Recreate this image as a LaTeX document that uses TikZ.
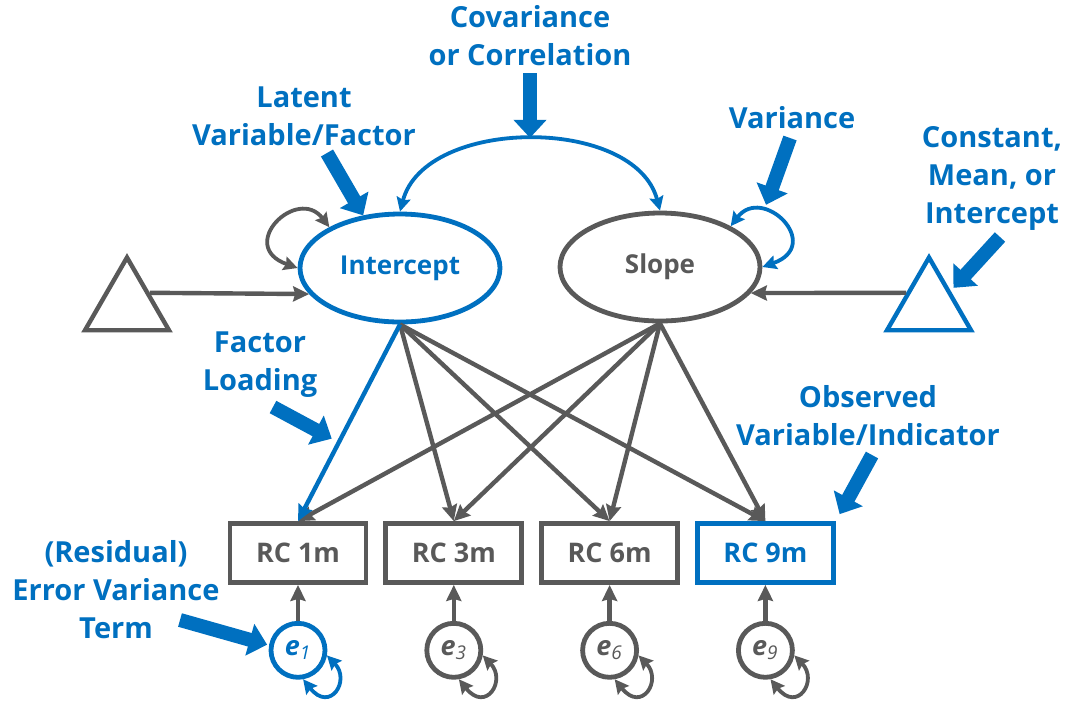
\documentclass[tikz,border=0pt]{standalone}
\usepackage{fontspec}
\setmainfont{Open Sans}
\usetikzlibrary{shapes.geometric, arrows.meta, positioning}
\definecolor{semblue}{RGB}{0, 112, 192}
\definecolor{semgray}{RGB}{89, 89, 89}

\begin{document}
\begin{tikzpicture}[
  x = 0.5pt,
  y = -0.5pt,
  node distance = 7.5pt,
  latent/.style = {
    ellipse,
    draw = semgray,
    line width = 2.4pt,
    minimum width = 100pt,
    minimum height = 54pt,
    text = semgray,
    font = \fontsize{13}{15}\selectfont\bfseries
  },
  observed/.style = {
    rectangle,
    draw = semgray,
    line width = 2.4pt,
    minimum width = 68pt,
    minimum height = 29.5pt,
    text = semgray,
    font = \fontsize{13.5}{15}\selectfont\bfseries
  },
  errterm/.style = {
    circle,
    draw = semgray,
    line width = 2.4pt,
    minimum size = 27pt,
    inner sep = 0pt,
    text = semgray,
    font = \fontsize{13.5}{15}\selectfont\bfseries
  },
  constant/.style = {
    regular polygon,
    regular polygon sides = 3,
    draw = semgray,
    line width = 2.2pt,
    minimum size = 48.5pt,
    inner sep = 0pt
  },
  loading/.style = {
    -{Stealth[length=8pt, width=7.5pt, inset=1pt]},
    draw = semgray,
    line width = 2.2pt
  },
  twoway/.style = {
    {Stealth[length=7pt, width=7pt, inset=1pt]}-{Stealth[length=7pt, width=7pt, inset=1pt]},
    draw = semgray,
    line width = 1.9pt
  },
  callout/.style = {
    -{Triangle[length=9pt, width=16pt]},
    draw = semblue,
    line width = 7pt
  },
  note/.style = {
    text = semblue,
    align = center,
    font = \fontsize{14.5}{19}\selectfont\bfseries
  }
]
\path[fill=white] (0,0) rectangle (1080,720);
\useasboundingbox (0,0) rectangle (1080,720);

% Factors and constants
\node[latent, draw=semblue, text=semblue] (icpt) at (400,268) {Intercept};
\node[latent] (slope) at (660,267) {Slope};
\node[constant] (lconst) at (127,306) {};
\node[constant, draw=semblue] (rconst) at (929,306) {};

% Indicators and residuals
\node[observed] (rc1) at (298,553) {RC 1m};
\node[observed, right=of rc1] (rc3) {RC 3m};
\node[observed, right=of rc3] (rc6) {RC 6m};
\node[observed, right=of rc6, draw=semblue, text=semblue] (rc9) {RC 9m};
\node[errterm, below=18pt of rc1, draw=semblue, text=semblue] (e1) {\textit{e}\textsubscript{\mdseries\itshape 1}};
\node[errterm, below=18pt of rc3] (e3) {\textit{e}\textsubscript{\mdseries\itshape 3}};
\node[errterm, below=18pt of rc6] (e6) {\textit{e}\textsubscript{\mdseries\itshape 6}};
\node[errterm, below=18pt of rc9] (e9) {\textit{e}\textsubscript{\mdseries\itshape 9}};

% Labels
\node[note] (covlbl) at (530,36) {Covariance\\or Correlation};
\node[note] (latlbl) at (304,116) {Latent\\Variable/Factor};
\node[note] (varlbl) at (792,118) {Variance};
\node[note] (conlbl) at (992,178) {Constant,\\Mean, or\\Intercept};
\node[note] (faclbl) at (260,365) {Factor\\Loading};
\node[note] (obslbl) at (868,416) {Observed\\Variable/Indicator};
\node[note] (errlbl) at (116,590) {(Residual)\\Error Variance\\Term};

% Means
\draw[loading] (lconst.30) -- (icpt.196);
\draw[loading] (rconst.150) -- (slope.-16);

% Loadings
\draw[loading] (icpt.south) -- (rc3.north);
\draw[loading] (icpt.south) -- (rc6.north);
\draw[loading] (icpt.south) -- (rc9.north);
\draw[loading] (slope.south) -- (rc1.north);
\draw[loading] (slope.south) -- (rc3.north);
\draw[loading] (slope.south) -- (rc6.north);
\draw[loading] (slope.south) -- (rc9.north);
\draw[loading, draw=semblue] (icpt.south) -- (rc1.north) coordinate[pos=0.6] (factip);

% Residuals
\foreach \i in {1,3,6,9} {
  \draw[loading] (e\i.north) -- (rc\i.south);
}
\draw[twoway, draw=semblue] (e1.-10) .. controls +(24,25) and +(27,34) .. (e1.-80);
\draw[twoway] (e3.-10) .. controls +(24,25) and +(27,34) .. (e3.-80);
\draw[twoway] (e6.-10) .. controls +(24,25) and +(27,34) .. (e6.-80);
\draw[twoway] (e9.-10) .. controls +(24,25) and +(27,34) .. (e9.-80);

% Variances and covariance
\draw[twoway] (icpt.150) .. controls +(-32,-42) and +(-62,-22) .. (icpt.180);
\draw[twoway, draw=semblue] (slope.30) .. controls +(32,-42) and +(62,-22) .. (slope.0) coordinate[pos=0.3] (vartip);
\draw[twoway, draw=semblue] (icpt.north) .. controls +(25,-95) and +(-25,-95) .. (slope.north) coordinate[pos=0.5] (covtip);

% Callouts
\coordinate (lattail) at (327,153);
\coordinate (vartail) at (790,138);
\coordinate (contail) at (1000,237);
\coordinate (factail) at (273,407);
\coordinate (obstail) at (872,455);
\coordinate (errtail) at (180,620);
\draw[callout, shorten >=1pt] (covlbl.south) -- (covtip);
\draw[callout] (lattail) -- (icpt.125);
\draw[callout, shorten >=4pt] (vartail) -- (vartip);
\draw[callout, shorten >=2pt] (contail) -- (rconst.35);
\draw[callout, shorten >=4pt] (factail) -- (factip);
\draw[callout, shorten >=4pt] (obstail) -- (rc9.north east);
\draw[callout, shorten >=1pt] (errtail) -- (e1.170);

\end{tikzpicture}
\end{document}
